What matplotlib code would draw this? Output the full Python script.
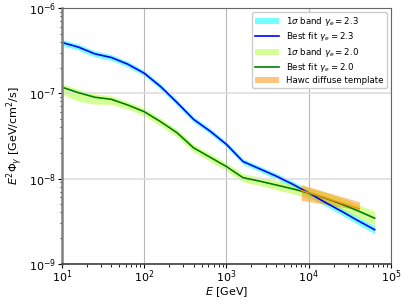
import numpy as np
import matplotlib
matplotlib.use("Agg")
import matplotlib.pyplot as plt
from matplotlib.ticker import NullFormatter

# log10(E/GeV) grid
logE = [1.0, 1.2, 1.4, 1.6, 1.8, 2.0, 2.2, 2.4, 2.6, 2.8,
        3.0, 3.2, 3.4, 3.6, 3.8, 4.0, 4.2, 4.4, 4.6, 4.8]

# best fit gamma_e = 2.3, log10(E^2 Phi)
fit23 = [-6.405, -6.459, -6.538, -6.581, -6.659, -6.765, -6.922, -7.110, -7.306, -7.444,
         -7.600, -7.800, -7.885, -7.970, -8.065, -8.170, -8.280, -8.385, -8.495, -8.600]
band23 = [0.035, 0.035, 0.035, 0.035, 0.033, 0.032, 0.032, 0.032, 0.032, 0.032,
          0.032, 0.032, 0.033, 0.034, 0.036, 0.038, 0.040, 0.042, 0.044, 0.046]

# best fit gamma_e = 2.0
fit20 = [-6.929, -6.993, -7.047, -7.071, -7.138, -7.216, -7.334, -7.464, -7.640, -7.750,
         -7.860, -7.990, -8.030, -8.075, -8.120, -8.170, -8.230, -8.300, -8.380, -8.465]
up20 = [0.040, 0.040, 0.040, 0.040, 0.040, 0.040, 0.040, 0.040, 0.040, 0.042,
        0.045, 0.048, 0.050, 0.052, 0.055, 0.060, 0.065, 0.070, 0.075, 0.080]
lo20 = [0.085, 0.100, 0.080, 0.060, 0.050, 0.050, 0.050, 0.050, 0.050, 0.050,
        0.050, 0.050, 0.052, 0.055, 0.058, 0.062, 0.066, 0.070, 0.075, 0.080]

# hawc diffuse template
hawc_logE = [3.908, 4.616]
hawc_hi = [-8.07, -8.275]
hawc_lo = [-8.255, -8.37]
hawc_mid = [-8.14, -8.355]

E = 10 ** np.array(logE)
f23 = np.array(fit23)
f20 = np.array(fit20)
b23 = np.array(band23)

fig = plt.figure(figsize=(4.07, 3.05), dpi=100)
ax = fig.add_axes([0.152, 0.135, 0.809, 0.839])

ax.fill_between(E, 10 ** (f23 - b23), 10 ** (f23 + b23), color='cyan', alpha=0.55,
                lw=0, label=r'1$\sigma$ band $\gamma_e = 2.3$')
ax.plot(E, 10 ** f23, color='blue', lw=1.2, label=r'Best fit $\gamma_e = 2.3$')
ax.fill_between(E, 10 ** (f20 - np.array(lo20)), 10 ** (f20 + np.array(up20)),
                color='greenyellow', alpha=0.5, lw=0, label=r'1$\sigma$ band $\gamma_e = 2.0$')
ax.plot(E, 10 ** f20, color='green', lw=1.2, label=r'Best fit $\gamma_e = 2.0$')

hE = 10 ** np.array(hawc_logE)
ax.fill_between(hE, 10 ** np.array(hawc_lo), 10 ** np.array(hawc_hi), color='darkorange',
                alpha=0.5, lw=0, label='Hawc diffuse template')
ax.plot(hE, 10 ** np.array(hawc_mid), color='darkorange', lw=1)

ax.set_xscale('log')
ax.set_yscale('log')
ax.set_xlim(1e1, 1e5)
ax.set_ylim(1e-9, 1e-6)
ax.xaxis.set_minor_formatter(NullFormatter())
ax.yaxis.set_minor_formatter(NullFormatter())

ax.grid(True, which='major', axis='x', color='0.72', lw=0.8)
ax.grid(True, which='major', axis='y', color='0.87', lw=1.2)

for s in ['top', 'right']:
    ax.spines[s].set_color('0.4')
ax.spines['left'].set_color('0.5')
ax.spines['left'].set_linewidth(1.8)
ax.spines['bottom'].set_color('0.25')
ax.spines['bottom'].set_linewidth(1.2)
ax.tick_params(which='major', labelsize=8, length=2.8, pad=1.5)
ax.tick_params(which='minor', length=1.8)
ax.tick_params(axis='x', which='major', pad=0.5)

ax.set_xlabel(r'$E$ [GeV]', fontsize=8, labelpad=0)
ax.set_ylabel(r'$E^2\Phi_\gamma$ [GeV/cm$^2$/s]', fontsize=8, labelpad=3)

ax.legend(loc='upper right', fontsize=6.2, framealpha=1, borderaxespad=0.5,
          handlelength=2.8, labelspacing=0.25, borderpad=0.35)

fig.savefig('out.png', dpi=100)
